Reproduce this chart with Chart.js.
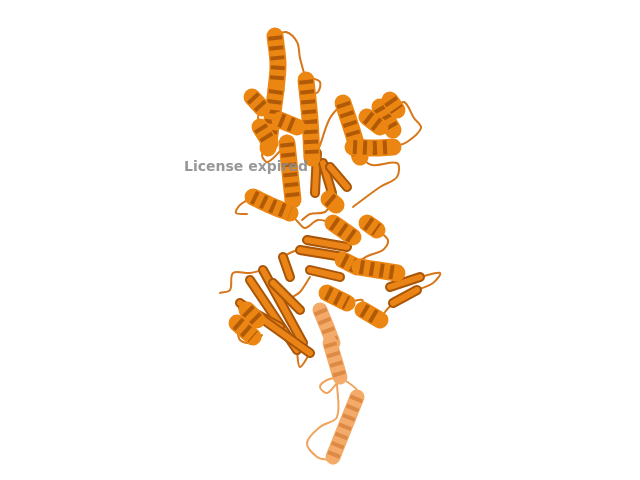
<!DOCTYPE html>
<html>
<head>
<meta charset="utf-8">
<script src="https://cdn.jsdelivr.net/npm/chart.js@4.4.1/dist/chart.umd.min.js"></script>
<style>
  body { margin: 0; background: #fff; }
  canvas { display: block; }
</style>
</head>
<body>
<canvas id="cartoon" width="640" height="480"></canvas>
<script>
// backbone trace, [x, y] in image units
const coilLoops = [
  [[275,36],[286,32],[297,42],[300,58],[306,80]],
  [[312,78],[320,82],[318,92],[310,95]],
  [[262,108],[258,118],[263,128]],
  [[268,148],[262,155],[268,162],[287,143]],
  [[312,158],[318,150],[330,118],[343,103]],
  [[393,110],[404,102],[414,118],[421,128],[407,142],[393,147]],
  [[360,157],[372,165],[397,163],[397,177],[380,187],[353,207]],
  [[253,197],[240,205],[236,213],[247,214]],
  [[290,213],[298,222],[305,228],[318,220],[333,223]],
  [[332,202],[325,212],[310,214],[302,220]],
  [[377,230],[388,240],[383,250],[370,255],[357,262]],
  [[397,273],[405,282],[390,287]],
  [[417,290],[433,283],[440,273],[420,277]],
  [[393,303],[385,312],[380,320]],
  [[220,293],[230,290],[233,273],[250,273],[263,270]],
  [[297,353],[300,367],[310,353]],
  [[283,257],[292,252],[300,250]],
  [[310,277],[300,292],[290,300],[300,310]],
  [[347,303],[362,300],[363,310]],
  [[237,323],[240,340],[255,343],[262,335]]
];

const helixAxes = [
  [[275,36],[278,64],[276,90]],
  [[276,90],[272,120],[268,148]],
  [[252,97],[262,108]],
  [[260,127],[270,143]],
  [[306,80],[310,120],[312,158]],
  [[280,120],[297,127]],
  [[343,103],[352,130],[360,157]],
  [[353,147],[373,148],[393,147]],
  [[380,107],[393,130]],
  [[367,117],[380,127]],
  [[390,100],[397,110]],
  [[287,143],[290,172],[293,200]],
  [[253,197],[272,206],[290,213]],
  [[329,199],[336,205]],
  [[333,223],[353,237]],
  [[367,223],[377,230]],
  [[343,260],[357,267]],
  [[360,267],[378,270],[397,273]],
  [[363,310],[380,320]],
  [[327,293],[347,303]],
  [[237,323],[253,337]],
  [[247,310],[257,320]]
];

const strandArrows = [
  [[317,153],[315,193]],
  [[323,163],[332,193]],
  [[330,167],[347,187]],
  [[307,240],[347,247]],
  [[343,257],[300,250]],
  [[310,270],[340,277]],
  [[390,287],[420,277]],
  [[417,290],[393,303]],
  [[250,280],[297,350]],
  [[303,343],[263,270]],
  [[243,307],[280,327]],
  [[273,283],[300,310]],
  [[283,257],[290,277]],
  [[240,303],[275,328],[310,353]]
];

const tailLoops = [
  [[340,377],[327,380],[320,387],[327,393],[337,383]],
  [[337,383],[337,417],[320,427],[307,443],[317,457],[328,460]],
  [[340,377],[357,390],[357,400]]
];

const tailHelixAxes = [
  [[320,310],[327,327],[333,343]],
  [[330,343],[335,360],[340,377]],
  [[357,397],[345,427],[333,457]]
];

const watermark = "License expired";

const toPts = path => path.map(p => ({ x: p[0], y: p[1] }));

function lineSet(path, color, width, dash) {
  return {
    data: toPts(path),
    showLine: true,
    borderColor: color,
    borderWidth: width,
    borderDash: dash || [],
    borderCapStyle: dash ? "butt" : "round",
    borderJoinStyle: "round",
    pointRadius: 0,
    fill: false,
    tension: dash ? 0 : 0.35
  };
}

// built bottom layer first; reversed below because Chart.js paints dataset 0 last
const datasets = [];
tailLoops.forEach(p => datasets.push(lineSet(p, "#f0a35a", 2)));
tailHelixAxes.forEach(p => {
  datasets.push(lineSet(p, "#f4ab6a", 15));
  datasets.push(lineSet(p, "#dc8a44", 13, [4, 6]));
});
coilLoops.forEach(p => datasets.push(lineSet(p, "#d7761a", 2)));
strandArrows.forEach(p => {
  datasets.push(lineSet(p, "#a85508", 10));
  datasets.push(lineSet(p, "#ea8416", 6));
});
helixAxes.forEach(p => {
  datasets.push(lineSet(p, "#ec8612", 17));
  datasets.push(lineSet(p, "#b05a08", 14, [4, 6]));
});
datasets.reverse();

const stamp = {
  id: "stamp",
  afterDraw(chart) {
    const ctx = chart.ctx;
    ctx.save();
    ctx.font = "bold 14px 'DejaVu Sans'";
    ctx.fillStyle = "rgba(140,140,140,0.9)";
    ctx.textBaseline = "middle";
    ctx.fillText(watermark, chart.scales.x.getPixelForValue(184), chart.scales.y.getPixelForValue(167));
    ctx.restore();
  }
};

new Chart(document.getElementById("cartoon").getContext("2d"), {
  type: "scatter",
  data: { datasets },
  options: {
    responsive: false,
    animation: false,
    layout: { padding: 0 },
    plugins: { legend: { display: false }, tooltip: { enabled: false } },
    scales: {
      x: { type: "linear", min: 0, max: 640, display: false },
      y: { type: "linear", min: 0, max: 480, reverse: true, display: false }
    }
  },
  plugins: [stamp]
});
</script>
</body>
</html>
